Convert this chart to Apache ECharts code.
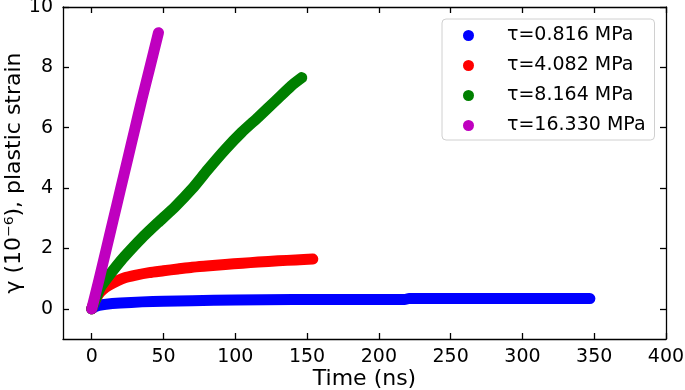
<!DOCTYPE html>
<html>
<head>
<meta charset="utf-8">
<script src="https://cdn.jsdelivr.net/npm/echarts@6/dist/echarts.min.js"></script>
<style>
  html, body { margin: 0; padding: 0; background: #fff; }
  #chart { width: 685px; height: 390px; }
</style>
</head>
<body>
<div id="chart"></div>
<script>
// plastic strain curves, [time (ns), gamma (1e-6)]
const blueData = [[0,0],[2,0.06],[5,0.11],[10,0.15],[20,0.19],[35,0.23],[50,0.25],[70,0.27],[100,0.29],[140,0.31],[180,0.31],[218,0.31],[221,0.34],[260,0.34],[300,0.34],[347,0.34]];
const redData = [[0,0],[2,0.25],[5,0.5],[8,0.65],[12,0.78],[18,0.93],[23,1.03],[30,1.11],[40,1.2],[50,1.26],[60,1.32],[70,1.38],[80,1.42],[93,1.47],[105,1.51],[116,1.55],[130,1.59],[142,1.62],[154,1.65]];
const greenData = [[0,0],[3,0.35],[6,0.7],[11.6,1.07],[17,1.4],[23,1.74],[35,2.35],[46,2.85],[58,3.38],[70,3.98],[81,4.62],[93,5.28],[104.5,5.85],[116,6.35],[128,6.89],[139,7.39],[146.3,7.66]];
const magentaData = [[0,0],[5,0.95],[10,1.95],[15,2.95],[20,3.95],[25,4.95],[30,5.95],[35,6.95],[40,7.9],[46.5,9.15]];

const seriesNames = ['0.816', '4.082', '8.164', '16.330'];
const seriesColors = ['#0000ff', '#ff0000', '#008000', '#bf00bf'];
const seriesData = [blueData, redData, greenData, magentaData];

const xTicks = [0, 50, 100, 150, 200, 250, 300, 350, 400];
const yTicks = [0, 2, 4, 6, 8, 10];

const font = 'DejaVu Sans';
const chart = echarts.init(document.getElementById('chart'));

const baseX = {
  type: 'value', min: -20, max: 400,
  axisLine: { show: true, onZero: false, lineStyle: { color: '#000', width: 1.3 } },
  axisTick: { show: true, inside: true, length: 6, customValues: xTicks, lineStyle: { color: '#000', width: 1.3 } },
  splitLine: { show: false }
};
const baseY = {
  type: 'value', min: -1, max: 10,
  axisLine: { show: true, onZero: false, lineStyle: { color: '#000', width: 1.3 } },
  axisTick: { show: true, inside: true, length: 6, customValues: yTicks, lineStyle: { color: '#000', width: 1.3 } },
  splitLine: { show: false }
};

const option = {
  backgroundColor: '#fff',
  animation: false,
  grid: { left: 63, right: 19, top: 7, bottom: 51, outerBoundsMode: 'none' },
  xAxis: [
    Object.assign({}, baseX, {
      position: 'bottom',
      name: 'Time (ns)', nameLocation: 'middle', nameGap: 29, nameMoveOverlap: false,
      nameTextStyle: { fontFamily: font, fontSize: 22, color: '#000' },
      axisLabel: { customValues: xTicks, margin: 9, fontFamily: font, fontSize: 19, color: '#000' }
    }),
    Object.assign({}, baseX, { position: 'top', axisLabel: { show: false } })
  ],
  yAxis: [
    Object.assign({}, baseY, {
      position: 'left',
      name: 'γ (10⁻⁶), plastic strain', nameLocation: 'middle', nameGap: 38, nameMoveOverlap: false,
      nameTextStyle: { fontFamily: font, fontSize: 22, color: '#000' },
      axisLabel: { customValues: yTicks, margin: 10, fontFamily: font, fontSize: 19, color: '#000' }
    }),
    Object.assign({}, baseY, { position: 'right', axisLabel: { show: false } })
  ],
  legend: {
    left: 442, top: 19,
    orient: 'vertical',
    icon: 'circle',
    itemWidth: 11, itemHeight: 11,
    itemGap: 11,
    padding: [7, 9, 5, 21],
    backgroundColor: '#fff',
    borderColor: '#d0d0d0', borderWidth: 1, borderRadius: 4,
    formatter: function (name) { return 'τ=' + name + ' MPa'; },
    textStyle: { fontFamily: font, fontSize: 19, color: '#000', padding: [0, 0, 0, 28] }
  },
  series: seriesData.map(function (d, i) {
    return {
      name: seriesNames[i],
      type: 'line',
      data: d,
      showSymbol: false,
      smooth: 0.2,
      itemStyle: { color: seriesColors[i] },
      lineStyle: { color: seriesColors[i], width: 11, cap: 'round', join: 'round' }
    };
  })
};

chart.setOption(option);
</script>
</body>
</html>
